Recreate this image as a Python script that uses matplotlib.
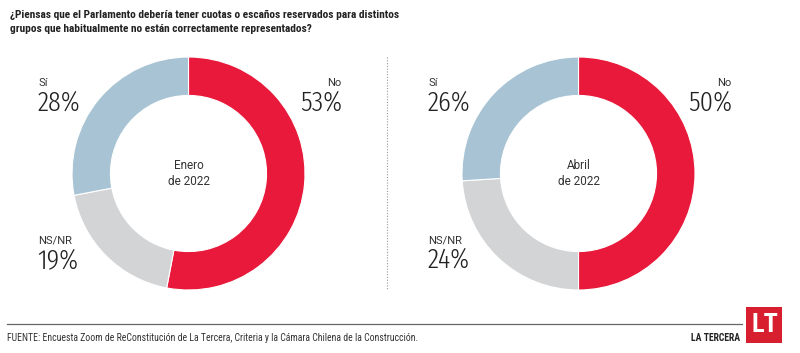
import matplotlib.pyplot as plt
from matplotlib.patches import Rectangle
from matplotlib import font_manager

# data
labels = ["No", "NS/NR", "Sí"]
enero = [53, 19, 28]
abril = [50, 24, 26]
periods = ["Enero\nde 2022", "Abril\nde 2022"]
colors = ["#E8193A", "#D3D4D6", "#A8C3D3"]

title = ("¿Piensas que el Parlamento debería tener cuotas o escaños reservados para distintos\n"
         "grupos que habitualmente no están correctamente representados?")
source = ("FUENTE: Encuesta Zoom de ReConstitución de La Tercera, Criteria y la Cámara Chilena "
          "de la Construcción.")

names = {f.name for f in font_manager.fontManager.ttflist}


def pick(*cands):
    for c in cands:
        if c in names:
            return c
    return "DejaVu Sans"


cond = pick("Roboto Condensed", "Liberation Sans Narrow")
thin = pick("Fira Sans Extra Condensed", "Roboto Condensed", "Liberation Sans Narrow")
plt.rcParams["font.family"] = ["Roboto", "DejaVu Sans"]

W, H = 800, 353
fig = plt.figure(figsize=(8, 3.53), dpi=100)
txt = "#333333"


def fx(px):
    return px / W


def fy(py):
    return 1 - py / H


R = 116.5
for cx, vals, period in [(188.5, enero, periods[0]), (578.5, abril, periods[1])]:
    ax = fig.add_axes([fx(cx - R), fy(173.5 + R), 2 * R / W, 2 * R / H])
    ax.pie(vals, colors=colors, startangle=90, counterclock=False,
           wedgeprops=dict(width=0.33, edgecolor="white", linewidth=0.8))
    ax.set_xlim(-1, 1)
    ax.set_ylim(-1, 1)
    ax.set_aspect("equal")
    ax.text(0, 0, period, ha="center", va="center", fontsize=8.5, color=txt,
            linespacing=1.3)

    # labels
    left = cx - 150
    right = cx + 153
    pct = dict(fontsize=20.5, color="#222222", family=thin, fontweight=300)
    fig.text(fx(right), fy(83), labels[0], ha="right", va="center", fontsize=8, color=txt)
    fig.text(fx(right + 1), fy(103), f"{vals[0]}%", ha="right", va="center", **pct)
    fig.text(fx(left), fy(83), labels[2], ha="left", va="center", fontsize=8, color=txt)
    fig.text(fx(left - 1), fy(103), f"{vals[2]}%", ha="left", va="center", **pct)
    fig.text(fx(left), fy(241), labels[1], ha="left", va="center", fontsize=8, color=txt)
    fig.text(fx(left - 1), fy(260), f"{vals[1]}%", ha="left", va="center", **pct)

# title
fig.text(fx(10), fy(10), title, ha="left", va="top", fontsize=8.2, fontweight="bold",
         color="#222222", linespacing=1.45, family=cond)

# dotted separator
fig.add_artist(plt.Line2D([fx(387), fx(387)], [fy(57), fy(290)], color="#999999",
                          linestyle=(0, (1, 1.5)), linewidth=0.8))

# footer
fig.add_artist(plt.Line2D([fx(7), fx(742)], [fy(324), fy(324)], color="#666666",
                          linewidth=0.9))
fig.text(fx(7), fy(338), source, ha="left", va="center", fontsize=7, color=txt,
         family=cond)
fig.text(fx(740), fy(338), "LA TERCERA", ha="right", va="center", fontsize=7,
         fontweight="bold", color="#222222", family=cond)
fig.add_artist(Rectangle((fx(746), fy(343)), fx(36), 36 / H, transform=fig.transFigure,
                         facecolor="#D71F30", edgecolor="none"))
fig.text(fx(764.5), fy(325), "LT", ha="center", va="center", fontsize=19, color="white",
         family=cond, fontweight="bold")

fig.savefig("out.png", dpi=100, facecolor="white")
